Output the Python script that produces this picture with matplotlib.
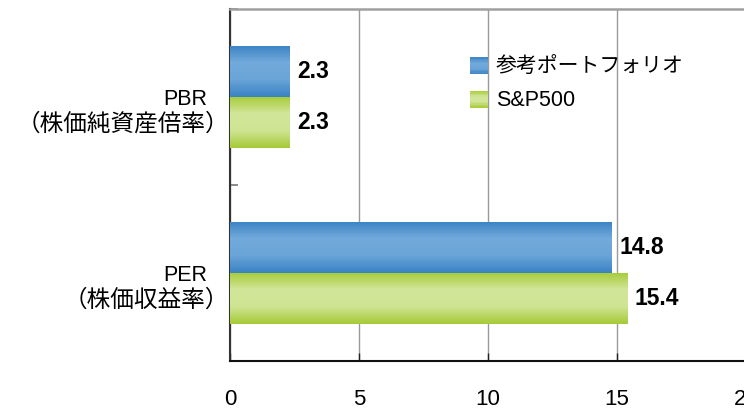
import numpy as np
import matplotlib
matplotlib.use("Agg")
import matplotlib.pyplot as plt
from matplotlib.colors import LinearSegmentedColormap
from matplotlib.legend_handler import HandlerBase
from matplotlib.patches import Rectangle

plt.rcParams['font.family'] = ['Noto Sans CJK JP', 'DejaVu Sans']

# ---- data ----
categories = ["PER", "PBR"]
category_sub = ["（株価収益率）", "（株価純資産倍率）"]
series_names = ["参考ポートフォリオ", "S&P500"]
portfolio_vals = [14.8, 2.3]
sp500_vals = [15.4, 2.3]
x_ticks = [0, 5, 10, 15, 20]

blue_grad = ["#3a83c4", "#72aadb", "#6aa4d8", "#3a83c4"]
green_grad = ["#a6cb38", "#d2e69a", "#cfe493", "#a6cb38"]

W, H = 744, 411
fig = plt.figure(figsize=(W / 100, H / 100), dpi=100)
ax = fig.add_axes([230 / W, (H - 361) / H, 516 / W, 352 / H])

y = np.arange(len(categories))
bh = 0.29
off = 0.145

def grad_bars(vals, ypos, cols):
    bars = ax.barh(ypos, vals, height=bh, color=cols[1], zorder=3, linewidth=0)
    cmap = LinearSegmentedColormap.from_list("g", cols)
    g = np.linspace(0, 1, 64).reshape(-1, 1)
    for p in bars.patches:
        x0, y0, w, h = p.get_x(), p.get_y(), p.get_width(), p.get_height()
        im = ax.imshow(g, cmap=cmap, aspect='auto', origin='upper',
                       extent=[x0, x0 + w, y0, y0 + h], zorder=3.5,
                       interpolation='bilinear')
        im.set_clip_path(p)
    return bars

b1 = grad_bars(portfolio_vals, y + off, blue_grad)
b2 = grad_bars(sp500_vals, y - off, green_grad)

ax.set_xlim(0, 20)
ax.set_ylim(-0.5, 1.5)

# value labels
for bars, vals in ((b1, portfolio_vals), (b2, sp500_vals)):
    for p, v in zip(bars.patches, vals):
        ax.annotate(f"{v:.1f}", (p.get_x() + p.get_width(), p.get_y() + p.get_height() / 2),
                    xytext=(5.5, 0), textcoords='offset points', ha='left', va='center',
                    fontsize=16.5, fontweight='bold', family=['Liberation Sans', 'DejaVu Sans'],
                    color='black', zorder=5)

# category labels
for yi, name, sub in zip(y, categories, category_sub):
    ax.annotate(name, (0, yi), xytext=(-16.5, -1.5), textcoords='offset points',
                ha='right', va='center', fontsize=15.5,
                family=['Liberation Sans', 'DejaVu Sans'], annotation_clip=False)
    ax.annotate(sub, (0, yi), xytext=(-0.5, -19.5), textcoords='offset points',
                ha='right', va='center', fontsize=17, annotation_clip=False)

# axes styling
ax.set_xticks(x_ticks)
ax.set_xticklabels([str(t) for t in x_ticks], family=['Liberation Sans', 'DejaVu Sans'], fontsize=16)
ax.tick_params(axis='x', direction='in', length=6, width=1, color='#222222', pad=20.5)
ax.set_yticks([-0.5, 0.5, 1.5])
ax.set_yticklabels([])
ax.tick_params(axis='y', direction='in', length=6, width=1.2, color='#777777')
ax.grid(axis='x', color='#9a9a9a', linewidth=1.0, zorder=0)
ax.set_axisbelow(True)
ax.spines['right'].set_visible(False)
ax.spines['top'].set_color('#a0a0a0')
ax.spines['top'].set_linewidth(1.8)
ax.spines['left'].set_color('#333333')
ax.spines['left'].set_linewidth(1.5)
ax.spines['bottom'].set_color('#111111')
ax.spines['bottom'].set_linewidth(1.5)

# legend with gradient handles
class HandlerGrad(HandlerBase):
    def __init__(self, cols):
        super().__init__()
        self.cols = cols
    def create_artists(self, legend, orig_handle, xdescent, ydescent, width, height, fontsize, trans):
        cmap = LinearSegmentedColormap.from_list("g", self.cols)
        n = 12
        arts = []
        for i in range(n):
            c = cmap(1 - (i + 0.5) / n)
            r = Rectangle((-xdescent, -ydescent + height * i / n), width, height / n + 0.05,
                          facecolor=c, edgecolor='none', transform=trans)
            arts.append(r)
        return arts

h1 = Rectangle((0, 0), 1, 1)
h2 = Rectangle((0, 0), 1, 1)
leg = ax.legend([h1, h2], series_names, handler_map={h1: HandlerGrad(blue_grad), h2: HandlerGrad(green_grad)},
                loc='upper left', bbox_to_anchor=(470 / W, (H - 56) / H), bbox_transform=fig.transFigure,
                frameon=False, fontsize=15, handlelength=0.85, handleheight=0.85,
                handletextpad=0.4, labelspacing=0.6, borderpad=0, borderaxespad=0)
for t in leg.get_texts():
    if t.get_text() == "S&P500":
        t.set_family(['Liberation Sans', 'DejaVu Sans'])
        t.set_fontsize(15.5)

fig.savefig("out.png", dpi=100)
